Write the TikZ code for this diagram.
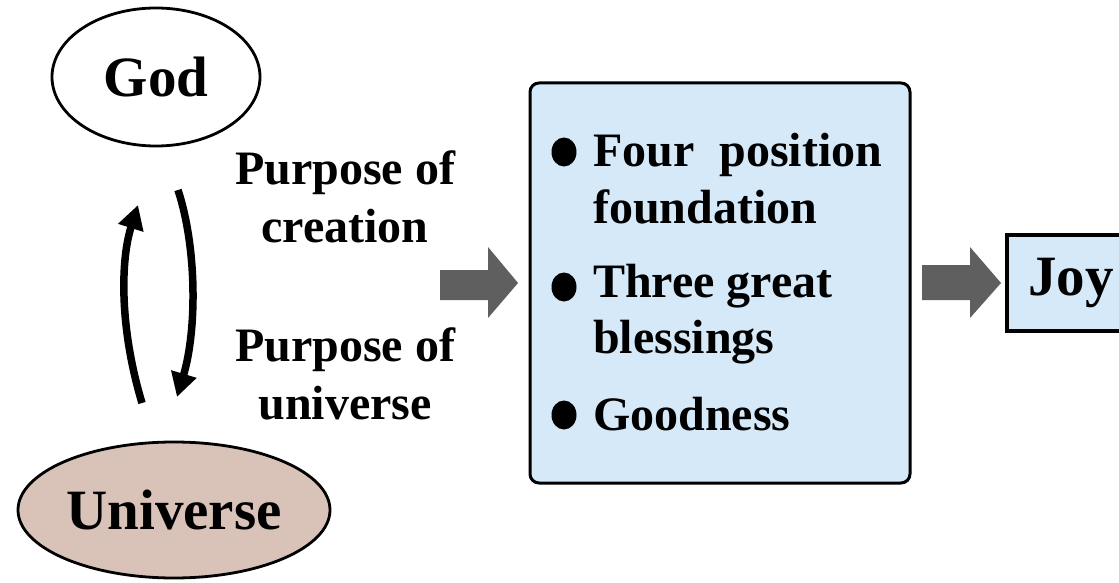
\documentclass[tikz,border=0pt]{standalone}
\usepackage{fontspec}
\setmainfont{Liberation Serif}[BoldFont={Liberation Serif Bold}]
\usetikzlibrary{shapes.geometric,arrows.meta}

\definecolor{panelblue}{HTML}{D6E9F8}
\definecolor{earth}{HTML}{D9C2B8}
\definecolor{blockgray}{HTML}{5F5F5F}

\tikzset{
  oval/.style={ellipse, draw=black, line width=2.8pt, inner sep=0pt},
  bigword/.style={font=\rmfamily\bfseries\fontsize{57}{60}\selectfont},
  label/.style={font=\rmfamily\bfseries\fontsize{48}{58}\selectfont, align=center, inner sep=0pt},
  itemtext/.style={font=\rmfamily\bfseries\fontsize{48}{58}\selectfont, anchor=base west, inner sep=0pt},
  dot/.style={ellipse, fill=black, inner sep=0pt, minimum width=25pt, minimum height=29pt},
  cycle arrow/.style={line width=7.5pt, -{Triangle[width=25pt,length=24pt]}},
  blockarrow/.style={fill=blockgray},
  panel/.style={draw=black, line width=3pt, rounded corners=9pt, fill=panelblue, inner sep=0pt},
}

\begin{document}
\begin{tikzpicture}[x=1pt,y=-1pt]
  \useasboundingbox (0,0) rectangle (1119,583);
  \clip (0,0) rectangle (1119,583);
  \fill[white] (0,0) rectangle (1119,583);

  % God and the universe
  \node[oval, minimum width=208pt, minimum height=138pt, bigword] (god) at (156,77) {God};
  \node[oval, fill=earth, minimum width=312pt, minimum height=136pt, bigword] (universe) at (174,510) {Universe};

  % the two purposes, cycling between them
  \coordinate (upStart) at (142,403);
  \coordinate (upEnd) at (138,205);
  \coordinate (downStart) at (178,190);
  \coordinate (downEnd) at (177,397);
  \draw[cycle arrow] (upStart) .. controls (120,330) and (120,262) .. (upEnd);
  \draw[cycle arrow] (downStart) .. controls (197,248) and (197,330) .. (downEnd);

  \node[label] (creation) at (345,197) {Purpose of\\creation};
  \node[label] (purposeU) at (345,374) {Purpose of\\universe};

  % first block arrow
  \fill[blockarrow] (440,270) -- (488,270) -- (488,247) -- (518,283)
    -- (488,318) -- (488,300) -- (440,300) -- cycle;

  % result panel
  \node[panel, minimum width=380pt, minimum height=400pt] (panel) at (720,283) {};
  \node[dot] (b1) at (564,152) {};
  \node[dot] (b2) at (564,287) {};
  \node[dot] (b3) at (564,415) {};
  \node[itemtext] (i1a) at (593,167) {Four\hspace{13pt} position};
  \node[itemtext] (i1b) at (593,223) {foundation};
  \node[itemtext] (i2a) at (593,297) {Three great};
  \node[itemtext] (i2b) at (593,353) {blessings};
  \node[itemtext] (i3) at (593,430) {Goodness};

  % second block arrow
  \fill[blockarrow] (922,265) -- (970,265) -- (970,247) -- (1001,283)
    -- (970,318) -- (970,300) -- (922,300) -- cycle;

  % joy
  \node[draw=black, line width=3.5pt, fill=panelblue, minimum width=128pt,
        minimum height=96pt, inner sep=0pt, bigword, anchor=west] (joy) at (1005,283) {Joy};
\end{tikzpicture}
\end{document}
